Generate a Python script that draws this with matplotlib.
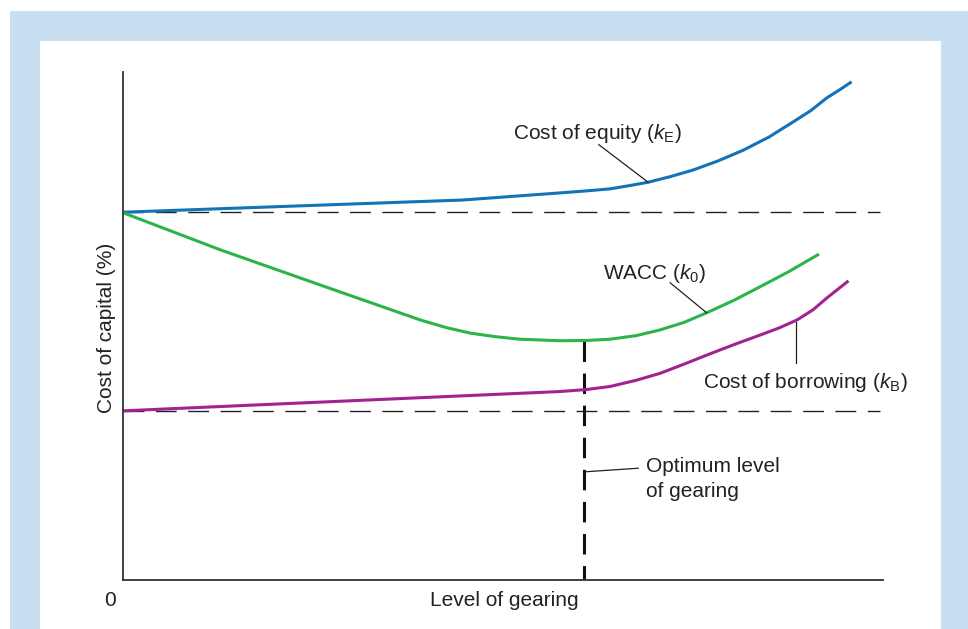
import numpy as np
import matplotlib.pyplot as plt
from matplotlib.patches import Rectangle

plt.rcParams['font.family'] = ['Liberation Sans', 'DejaVu Sans']
plt.rcParams['mathtext.fontset'] = 'custom'
plt.rcParams['mathtext.rm'] = 'Liberation Sans'
plt.rcParams['mathtext.it'] = 'Liberation Sans:italic'

# (x: level of gearing 0-100, y: cost of capital 0-100)
equity_x = [0, 44.7, 57.5, 61.0, 64.1, 66.5, 69.1, 72.0, 75.0, 78.3, 81.6, 85.0, 88.2, 90.5, 92.6, 94.2, 95.7]
equity_y = [72.4, 74.8, 76.2, 76.6, 77.0, 77.6, 78.3, 79.4, 80.7, 82.5, 84.6, 87.2, 90.2, 92.4, 94.9, 96.4, 97.9]

wacc_x = [0, 12.8, 25.9, 39.1, 42.5, 45.7, 49.0, 52.2, 57.5, 61.0, 64.1, 67.5, 70.6,
          73.8, 76.8, 80.3, 83.8, 87.6, 91.4]
wacc_y = [72.3, 65.0, 58.1, 51.2, 49.7, 48.6, 47.9, 47.4, 47.1, 47.15, 47.4, 48.1, 49.2,
          50.7, 52.6, 55.0, 57.7, 60.7, 64.0]

borrow_x = [0, 57.5, 61.0, 64.1, 67.5, 70.7, 74.0, 77.2, 80.5, 83.8, 86.3, 88.7, 90.8, 92.6, 95.3]
borrow_y = [33.3, 37.1, 37.5, 38.1, 39.3, 40.7, 42.6, 44.5, 46.4, 48.2, 49.6, 51.2, 53.2, 55.5, 58.7]

base_equity = 72.4
base_borrow = 33.3
optimum_x = 60.6
optimum_y = 47.1

fig = plt.figure(figsize=(9.68, 6.29), dpi=100)
fig.patches.append(Rectangle((10/968, 0), 958/968, 618/629, transform=fig.transFigure,
                             facecolor='#c8dff2', edgecolor='none', zorder=-10))
fig.patches.append(Rectangle((40/968, 0), 901/968, 588/629, transform=fig.transFigure,
                             facecolor='white', edgecolor='none', zorder=-9))

ax = fig.add_axes([123/968, 49/629, 760/968, 508/629])
ax.set_zorder(5)
ax.set_facecolor('none')
ax.set_xlim(0, 100)
ax.set_ylim(0, 100)
for s in ['top', 'right']:
    ax.spines[s].set_visible(False)
for s in ['left', 'bottom']:
    ax.spines[s].set_color('#333333')
    ax.spines[s].set_linewidth(1.3)
ax.set_xticks([])
ax.set_yticks([])

# dashed reference lines
ax.plot([0, 99.6], [base_equity, base_equity], color='#222222', lw=1.0, dashes=(15, 8.3))
ax.plot([0, 99.6], [base_borrow, base_borrow], color='#222222', lw=1.0, dashes=(15, 8.3))
ax.plot([optimum_x, optimum_x], [optimum_y, 0], color='#111111', lw=2.2, dashes=(6.7, 3.8))

ax.plot(equity_x, equity_y, color='#1273b9', lw=2.2, solid_joinstyle='round')
ax.plot(wacc_x, wacc_y, color='#2cb44a', lw=2.2, solid_joinstyle='round')
ax.plot(borrow_x, borrow_y, color='#a2238f', lw=2.2, solid_joinstyle='round')

fs = 15
ax.text(51.3, 87.9, r'Cost of equity ($k_\mathrm{E}$)', fontsize=fs, va='center', ha='left', color='#222222')
ax.plot([62.6, 69.1], [85.7, 78.3], color='#222222', lw=0.9)

ax.text(63.2, 60.3, r'WACC ($k_0$)', fontsize=fs, va='center', ha='left', color='#222222')
ax.plot([72.0, 76.8], [58.5, 52.6], color='#222222', lw=0.9)

ax.text(76.3, 38.8, r'Cost of borrowing ($k_\mathrm{B}$)', fontsize=fs, va='center', ha='left', color='#222222')
ax.plot([88.55, 88.55], [50.8, 42.7], color='#222222', lw=0.9)

ax.text(68.8, 19.9, 'Optimum level\nof gearing', fontsize=fs, va='center', ha='left',
        color='#222222', linespacing=1.35)
ax.plot([60.8, 67.8], [21.3, 22.0], color='#222222', lw=0.9)

fig.text(110/968, 1 - 600/629, '0', fontsize=fs, ha='center', va='center', color='#222222')
fig.text(504/968, 1 - 600/629, 'Level of gearing', fontsize=fs, ha='center', va='center', color='#222222')
fig.text(106/968, 1 - 328/629, 'Cost of capital (%)', fontsize=fs, ha='center', va='center',
         rotation=90, color='#222222')

fig.savefig('out.png', dpi=100)
